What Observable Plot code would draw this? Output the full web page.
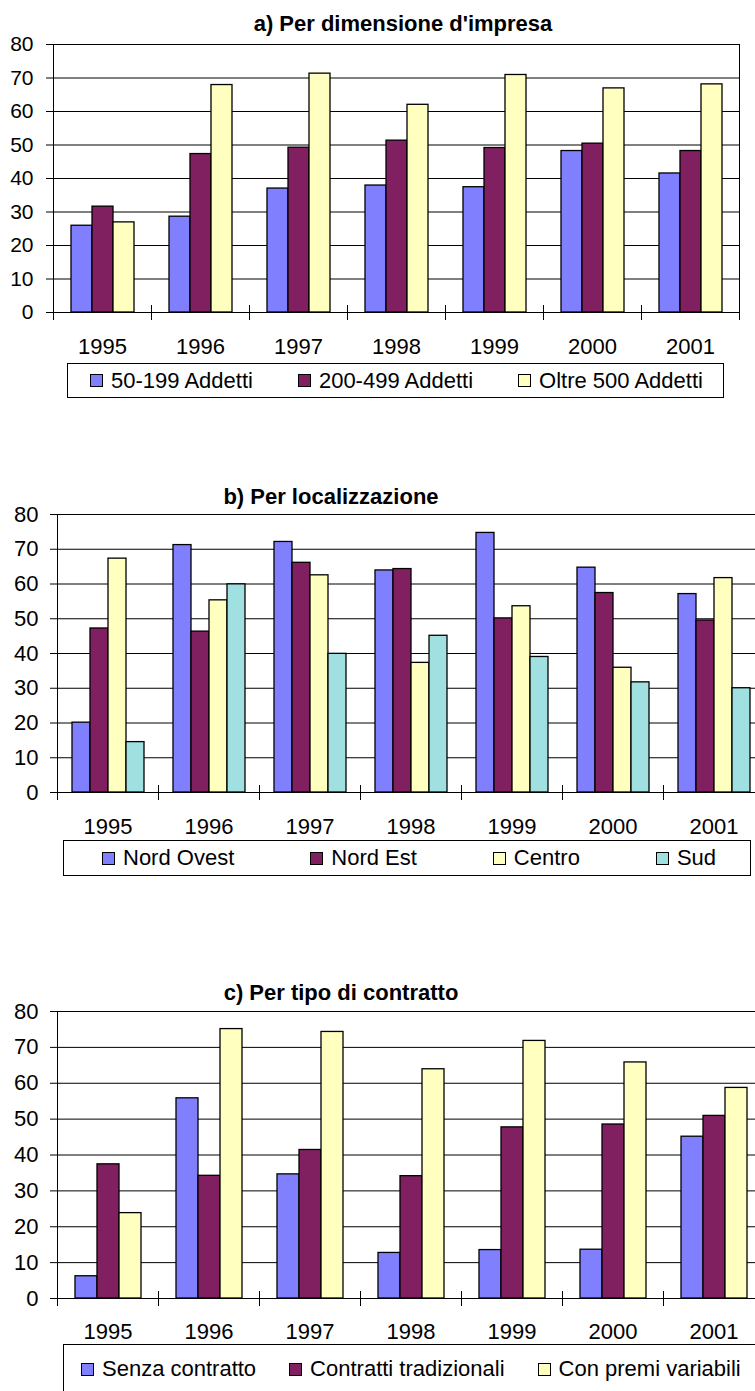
<!DOCTYPE html>
<html>
<head>
<meta charset="utf-8">
<script src="https://cdn.jsdelivr.net/npm/d3@7"></script>
<script src="https://cdn.jsdelivr.net/npm/@observablehq/plot@0.6"></script>
<style>
  html, body { margin: 0; padding: 0; background: #fff; }
  #page { position: relative; width: 755px; height: 1391px; overflow: hidden; background: #fff;
          font-family: "Liberation Sans", Arial, sans-serif; color: #000; }
  .title { position: absolute; font-weight: bold; font-size: 22px; line-height: 22px; text-align: center; white-space: nowrap; z-index: 2; }
  .chart { position: absolute; left: 0; width: 800px; }
  .legend { position: absolute; box-sizing: border-box; border: 1px solid #000; display: flex; align-items: center;
            font-size: 22px; line-height: 22px; white-space: nowrap; background: #fff; }
  .item { display: flex; align-items: center; }
  .sw { width: 13px; height: 13px; box-sizing: border-box; border: 1px solid #000; margin-right: 8px; }
</style>
</head>
<body>
<div id="page"></div>
<script>
// ---------- data ----------
const years = ["1995", "1996", "1997", "1998", "1999", "2000", "2001"];
const yTicks = [0, 10, 20, 30, 40, 50, 60, 70, 80];

// a) Per dimensione d'impresa
const titleA = "a) Per dimensione d'impresa";
const seriesA = ["50-199 Addetti", "200-499 Addetti", "Oltre 500 Addetti"];
const a50_199 = [25.9, 28.6, 37.0, 37.9, 37.4, 48.2, 41.5];
const a200_499 = [31.6, 47.3, 49.2, 51.3, 49.1, 50.4, 48.2];
const aOltre500 = [26.9, 67.9, 71.3, 62.0, 70.9, 66.9, 68.1];
const colorsA = ["#8080ff", "#802060", "#ffffc0"];

// b) Per localizzazione
const titleB = "b) Per localizzazione";
const seriesB = ["Nord Ovest", "Nord Est", "Centro", "Sud"];
const bNordOvest = [20.1, 71.2, 72.1, 63.9, 74.7, 64.7, 57.1];
const bNordEst = [47.2, 46.3, 66.1, 64.3, 50.1, 57.4, 49.5];
const bCentro = [67.3, 55.3, 62.5, 37.3, 53.6, 35.9, 61.7];
const bSud = [14.5, 59.9, 39.9, 45.1, 39.0, 31.7, 30.0];
const colorsB = ["#8080ff", "#802060", "#ffffc0", "#a0e0e0"];

// c) Per tipo di contratto
const titleC = "c) Per tipo di contratto";
const seriesC = ["Senza contratto", "Contratti tradizionali", "Con premi variabili"];
const cSenza = [6.2, 55.8, 34.6, 12.7, 13.5, 13.6, 45.1];
const cTradizionali = [37.4, 34.2, 41.4, 34.1, 47.7, 48.5, 50.9];
const cPremi = [23.8, 75.1, 74.3, 63.9, 71.8, 65.8, 58.7];
const colorsC = ["#8080ff", "#802060", "#ffffc0"];

// ---------- drawing ----------
const page = document.getElementById("page");

function makeChart(series, values, colors, o) {
  const rows = years.flatMap((year, i) => series.map((s, j) => ({year, series: s, value: values[j][i]})));
  const plotH = o.plotH;
  return Plot.plot({
    width: o.width,
    height: o.marginTop + plotH + o.marginBottom,
    marginLeft: o.marginLeft,
    marginRight: o.marginRight,
    marginTop: o.marginTop,
    marginBottom: o.marginBottom,
    style: {fontFamily: "'Liberation Sans', Arial, sans-serif", fontSize: "22px", color: "#000",
            background: "transparent", maxWidth: "none", overflow: "visible"},
    fx: {domain: years, padding: 0, label: null},
    x: {domain: series, paddingInner: 0, paddingOuter: 0.75, axis: null},
    y: {domain: [0, 80]},
    color: {domain: series, range: colors},
    marks: [
      Plot.ruleY(yTicks, {stroke: "#000", strokeWidth: 1}),
      Plot.barY(rows, {fx: "year", x: "series", y: "value", fill: "series", stroke: "#000", strokeWidth: 1.3}),
      Plot.axisY({ticks: yTicks, tickSize: 7, tickPadding: o.yPad, label: null, fontSize: o.yFont, tickFormat: d => String(d)}),
      Plot.axisFx({anchor: "bottom", tickSize: 0, tickPadding: o.xPad, label: null}),
      Plot.frame({anchor: "left", facetAnchor: "left", stroke: "#000"}),
      Plot.frame({anchor: "left", insetTop: plotH - 7, insetBottom: -7, stroke: "#000"}),
      o.rightBorder ? Plot.frame({anchor: "right", facetAnchor: "right", insetBottom: -7, stroke: "#000"}) : null
    ]
  });
}

function addTitle(text, left, width, top) {
  const d = document.createElement("div");
  d.className = "title";
  d.textContent = text;
  d.style.left = left + "px";
  d.style.width = width + "px";
  d.style.top = top + "px";
  page.appendChild(d);
}

function addChart(svg, top) {
  const d = document.createElement("div");
  d.className = "chart";
  d.style.top = top + "px";
  d.appendChild(svg);
  page.appendChild(d);
}

function addLegend(series, colors, box) {
  const d = document.createElement("div");
  d.className = "legend";
  d.style.left = box.left + "px";
  d.style.top = box.top + "px";
  d.style.width = box.width + "px";
  d.style.height = box.height + "px";
  d.style.paddingLeft = box.pad + "px";
  d.style.gap = box.gap + "px";
  series.forEach((s, i) => {
    const it = document.createElement("div");
    it.className = "item";
    const sw = document.createElement("div");
    sw.className = "sw";
    sw.style.background = colors[i];
    const tx = document.createElement("span");
    tx.textContent = s;
    it.appendChild(sw);
    it.appendChild(tx);
    d.appendChild(it);
  });
  page.appendChild(d);
}

// Chart a
addTitle(titleA, 203, 400, 13);
addChart(makeChart(seriesA, [a50_199, a200_499, aOltre500], colorsA,
  {width: 755, marginLeft: 53, marginRight: 16, marginTop: 14, plotH: 268, marginBottom: 50,
   yPad: 13, yFont: 21, xPad: 26, rightBorder: true}), 30);
addLegend(seriesA, colorsA, {left: 67, top: 363, width: 657, height: 35, pad: 22, gap: 45});

// Chart b
addTitle(titleB, 131, 400, 486);
addChart(makeChart(seriesB, [bNordOvest, bNordEst, bCentro, bSud], colorsB,
  {width: 766, marginLeft: 56, marginRight: 2, marginTop: 14, plotH: 278, marginBottom: 50,
   yPad: 12, yFont: 22, xPad: 26, rightBorder: false}), 500);
addLegend(seriesB, colorsB, {left: 63, top: 840, width: 688, height: 36, pad: 38, gap: 76});

// Chart c
addTitle(titleC, 141, 400, 982);
addChart(makeChart(seriesC, [cSenza, cTradizionali, cPremi], colorsC,
  {width: 766, marginLeft: 56, marginRight: 2, marginTop: 15, plotH: 287, marginBottom: 50,
   yPad: 12, yFont: 22, xPad: 25, rightBorder: false}), 996);
addLegend(seriesC, colorsC, {left: 63, top: 1344, width: 740, height: 50, pad: 17, gap: 33});
</script>
</body>
</html>
